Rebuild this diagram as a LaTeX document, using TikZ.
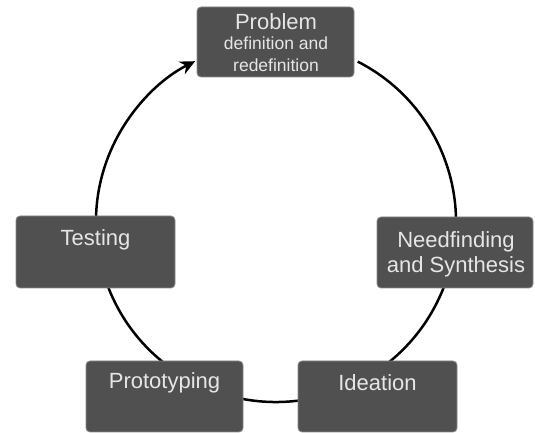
\documentclass[tikz,border=0pt]{standalone}
\usepackage{fontspec}
\setmainfont{Liberation Sans}
\usetikzlibrary{arrows.meta,calc}
\definecolor{boxfill}{HTML}{505050}
\definecolor{boxline}{HTML}{8A8A8A}
\definecolor{boxtext}{HTML}{E6E6E6}
\begin{document}
\begin{tikzpicture}[x=1pt,y=1pt,
  stagebox/.style={draw=boxline,line width=0.8pt,fill=boxfill,rounded corners=4pt,inner sep=0pt},
  stagetext/.style={text=boxtext,inner sep=0pt,align=center,font=\fontsize{22}{25}\selectfont},
  smalltext/.style={text=boxtext,inner sep=0pt,align=center,font=\fontsize{17.5}{22}\selectfont},
  cycleline/.style={line width=2.5pt,black}]
\useasboundingbox (0,0) rectangle (535,433);
\coordinate (c) at (276,211);
% cycle
\draw[cycleline,-{Stealth[length=15pt,width=14pt,inset=5pt]}] ($(c)+(63:180)$) arc[start angle=63,end angle=-243.3,radius=180];
% boxes
\node[stagebox,minimum width=157pt,minimum height=70pt] (prob) at (275.5,391) {};
\node[stagebox,minimum width=156pt,minimum height=71pt] (need) at (455,180.5) {};
\node[stagebox,minimum width=159pt,minimum height=71pt] (ideat) at (377.5,36.5) {};
\node[stagebox,minimum width=157pt,minimum height=71pt] (proto) at (164.5,36.5) {};
\node[stagebox,minimum width=159pt,minimum height=72pt] (test) at (95.5,181) {};
% texts
\node[stagetext] (probt) at (276,411) {Problem};
\node[smalltext] (probs) at (276,379) {definition and\\redefinition};
\node[stagetext] (needt) at (456,178.5) {Needfinding\\and Synthesis};
\node[stagetext] (testt) at (95.5,193) {Testing};
\node[stagetext] (protot) at (164.5,50) {Prototyping};
\node[stagetext] (ideatt) at (377.5,50) {Ideation};
\end{tikzpicture}
\end{document}
